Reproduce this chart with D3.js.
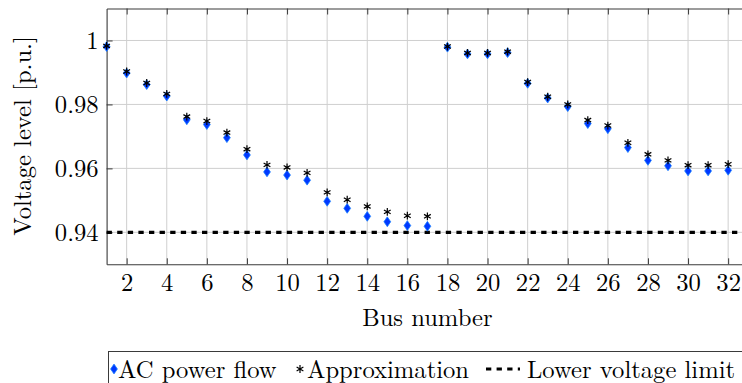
<!DOCTYPE html>
<html>
<head>
<meta charset="utf-8">
<script src="https://cdn.jsdelivr.net/npm/d3@7"></script>
<style>
  html, body { margin: 0; padding: 0; background: #fff; }
  svg { display: block; }
</style>
</head>
<body>
<svg id="chart" width="742" height="383"></svg>
<script>
// ---- data ----
const buses = [1,2,3,4,5,6,7,8,9,10,11,12,13,14,15,16,17,18,19,20,21,22,23,24,25,26,27,28,29,30,31,32];
const acPowerFlow = [0.9981, 0.9898, 0.9862, 0.9826, 0.9752, 0.9737, 0.9696, 0.9642, 0.9589, 0.9579, 0.9563,
  0.9497, 0.9475, 0.9450, 0.9433, 0.9421, 0.9419, 0.9979, 0.9958, 0.9958, 0.9962, 0.9866, 0.9820, 0.9793,
  0.9740, 0.9724, 0.9665, 0.9625, 0.9608, 0.9592, 0.9592, 0.9594];
const approximation = [0.9983, 0.9903, 0.9867, 0.9833, 0.9762, 0.9748, 0.9712, 0.9660, 0.9611, 0.9603, 0.9586,
  0.9525, 0.9502, 0.9481, 0.9464, 0.9452, 0.9450, 0.9981, 0.9961, 0.9961, 0.9965, 0.9870, 0.9824, 0.9800,
  0.9751, 0.9734, 0.9680, 0.9644, 0.9625, 0.9610, 0.9610, 0.9613];
const lowerLimit = 0.94;
const xTicks = [2,4,6,8,10,12,14,16,18,20,22,24,26,28,30,32];
const yTicks = [0.94, 0.96, 0.98, 1.00];
const xDomain = [1, 33];
const yDomain = [0.93, 1.01];
const legendLabels = ["AC power flow", "Approximation", "Lower voltage limit"];

// ---- layout ----
const FONT = '"Latin Modern Roman", "CMU Serif", "Liberation Serif", serif';
const svg = d3.select("#chart");
const L = 106.6, R = 748.2, T = 8.5, B = 264.3;
const x = d3.scaleLinear().domain(xDomain).range([L, R]);
const y = d3.scaleLinear().domain(yDomain).range([B, T]);
const FS = 24.6;
const gridColor = "#cfcfcf", axisColor = "#3a3a3a";
const blueFill = "#0038ff", blueEdge = "#1a80ff";

// grid
const grid = svg.append("g");
grid.selectAll("line.gx").data(xTicks).join("line")
  .attr("x1", d => x(d)).attr("x2", d => x(d)).attr("y1", T).attr("y2", B)
  .attr("stroke", gridColor).attr("stroke-width", 1);
grid.selectAll("line.gy").data(yTicks).join("line")
  .attr("y1", d => y(d)).attr("y2", d => y(d)).attr("x1", L).attr("x2", R)
  .attr("stroke", gridColor).attr("stroke-width", 1);

// axes (ticks inward on all sides)
const tl = 6;
const axB = svg.append("g").attr("transform", `translate(0,${B})`)
  .call(d3.axisBottom(x).tickValues(xTicks).tickSizeInner(-tl).tickSizeOuter(0).tickPadding(9).tickFormat(d3.format("d")));
const axT = svg.append("g").attr("transform", `translate(0,${T})`)
  .call(d3.axisTop(x).tickValues(xTicks).tickSizeInner(-tl).tickSizeOuter(0).tickFormat(""));
const axL = svg.append("g").attr("transform", `translate(${L},0)`)
  .call(d3.axisLeft(y).tickValues(yTicks).tickSizeInner(-tl).tickSizeOuter(0).tickPadding(8)
    .tickFormat(d => d === 1 ? "1" : d3.format(".2f")(d)));
const axR = svg.append("g").attr("transform", `translate(${R},0)`)
  .call(d3.axisRight(y).tickValues(yTicks).tickSizeInner(-tl).tickSizeOuter(0).tickFormat(""));
[axB, axT, axL, axR].forEach(a => {
  a.select(".domain").attr("stroke", axisColor).attr("stroke-width", 1.1);
  a.selectAll(".tick line").attr("stroke", axisColor).attr("stroke-width", 1);
  a.selectAll("text").style("font-family", FONT).style("font-size", FS + "px").attr("fill", "#000");
});
axB.selectAll("text").attr("dy", "0.71em");
axL.selectAll("text").attr("dy", "0.34em");

// lower voltage limit
svg.append("line")
  .attr("x1", x(xDomain[0])).attr("x2", x(xDomain[1]))
  .attr("y1", y(lowerLimit)).attr("y2", y(lowerLimit))
  .attr("stroke", "#000").attr("stroke-width", 3.2).attr("stroke-dasharray", "5.3,5.3");

// markers
const diamond = (cx, cy, w, h) => `M${cx},${cy-h/2}L${cx+w/2},${cy}L${cx},${cy+h/2}L${cx-w/2},${cy}Z`;
const asterisk = (cx, cy, r) => {
  let p = "";
  for (let k = 0; k < 3; k++) {
    const a = Math.PI/2 + k*Math.PI/3;
    p += `M${cx - r*Math.cos(a)},${cy - r*Math.sin(a)}L${cx + r*Math.cos(a)},${cy + r*Math.sin(a)}`;
  }
  return p;
};
const acData = buses.map((b, i) => ({b, v: acPowerFlow[i]}));
const apData = buses.map((b, i) => ({b, v: approximation[i]}));
svg.append("g").selectAll("path").data(acData).join("path")
  .attr("d", d => diamond(x(d.b), y(d.v), 6.8, 9.8))
  .attr("fill", blueFill).attr("stroke", blueEdge).attr("stroke-width", 0.8);
svg.append("g").selectAll("path").data(apData).join("path")
  .attr("d", d => asterisk(x(d.b), y(d.v), 3.9))
  .attr("stroke", "#000").attr("stroke-width", 1.2).attr("fill", "none");

// axis labels
const txt = (sel) => sel.style("font-family", FONT).style("font-size", FS + "px").attr("fill", "#000");
svg.append("text").attr("x", (L + R) / 2).attr("y", 326).attr("text-anchor", "middle")
  .call(txt).text("Bus number");
svg.append("text").attr("transform", "translate(31,136) rotate(-90)").attr("text-anchor", "middle")
  .call(txt).text("Voltage level [p.u.]");

// legend
const lg = svg.append("g");
lg.append("rect").attr("x", 108.5).attr("y", 351.5).attr("width", 640).attr("height", 40)
  .attr("fill", "#fff").attr("stroke", axisColor).attr("stroke-width", 1);
const ly = 369, lb = 377.5;
lg.append("path").attr("d", diamond(114, ly, 6.8, 9.8)).attr("fill", blueFill).attr("stroke", blueEdge).attr("stroke-width", 0.8);
lg.append("text").attr("x", 118).attr("y", lb).call(txt).text(legendLabels[0]);
lg.append("path").attr("d", asterisk(300, ly, 3.9)).attr("stroke", "#000").attr("stroke-width", 1.2);
lg.append("text").attr("x", 307).attr("y", lb).call(txt).text(legendLabels[1]);
lg.append("line").attr("x1", 486).attr("x2", 520).attr("y1", ly).attr("y2", ly)
  .attr("stroke", "#000").attr("stroke-width", 3.2).attr("stroke-dasharray", "5.3,5.3");
lg.append("text").attr("x", 527).attr("y", lb).call(txt).text(legendLabels[2]);
</script>
</body>
</html>
